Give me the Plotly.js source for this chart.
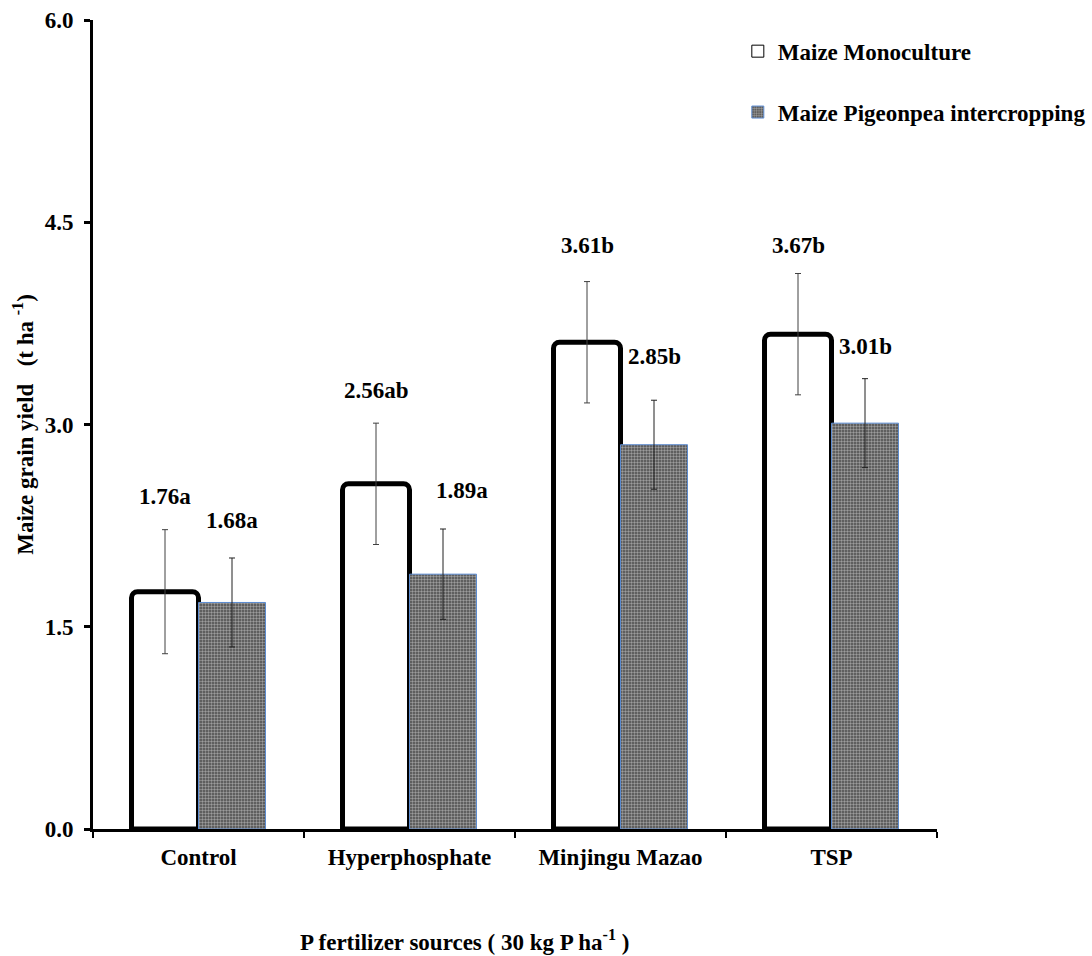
<!DOCTYPE html>
<html>
<head>
<meta charset="utf-8">
<script src="https://cdn.plot.ly/plotly-3.0.1.min.js"></script>
<style>html,body{margin:0;padding:0;background:#fff;}#chart{width:1092px;height:956px;}</style>
</head>
<body>
<div id="chart"></div>
<script>
// ---- data ----
const categories = ['Control', 'Hyperphosphate', 'Minjingu Mazao', 'TSP'];
const monoValues = [1.76, 2.56, 3.61, 3.67];
const monoErrors = [0.46, 0.45, 0.45, 0.45];
const interValues = [1.68, 1.89, 2.85, 3.01];
const interErrors = [0.33, 0.335, 0.33, 0.33];
const monoLabels = ['1.76a', '2.56ab', '3.61b', '3.67b'];
const interLabels = ['1.68a', '1.89a', '2.85b', '3.01b'];
const seriesNames = ['Maize Monoculture', 'Maize Pigeonpea intercropping'];
const yTickVals = [0, 1.5, 3.0, 4.5, 6.0];

// ---- styling (label offsets in px) ----
const FONT = 'Liberation Serif';
const FS = 23;
const barOffsetPx = 33.5;
const monoLabelYShift = [33, 33, 36, 28];
const interLabelYShift = [37, 39, 44, 32];
const interLabelXShift = [0, 19, 0, 0];

const monoMarker = { color: '#ffffff', line: { color: '#000000', width: 5 }, cornerradius: 6 };
const interMarker = {
  color: '#606060',
  line: { color: '#5b8bd0', width: 1 },
  pattern: { shape: '.', bgcolor: '#4a4a4a', fgcolor: '#9c9c9c', size: 3, solidity: 0.5 }
};

const traces = [
  {
    type: 'bar', name: seriesNames[0], x: categories, y: monoValues, showlegend: false,
    marker: monoMarker,
    error_y: { type: 'data', array: monoErrors, visible: true, color: '#404040', thickness: 1, width: 3 },
    hoverinfo: 'skip'
  },
  {
    type: 'bar', name: seriesNames[1], x: categories, y: interValues, showlegend: false,
    marker: interMarker,
    error_y: { type: 'data', array: interErrors, visible: true, color: '#202020', thickness: 1, width: 3 },
    hoverinfo: 'skip'
  },
  // legend-only entries drawn on a hidden subplot, with thin outline symbols
  {
    type: 'bar', name: seriesNames[0], x: [categories[0]], y: [null], xaxis: 'x2', yaxis: 'y2',
    legendgroup: 'g1', marker: { color: '#ffffff', line: { color: '#000000', width: 1 } }, hoverinfo: 'skip'
  },
  {
    type: 'bar', name: seriesNames[1], x: [categories[0]], y: [null], xaxis: 'x2', yaxis: 'y2',
    legendgroup: 'g2', marker: { color: '#606060', line: { color: '#5b8bd0', width: 1 },
      pattern: interMarker.pattern }, hoverinfo: 'skip'
  }
];

const annotations = [];
categories.forEach((c, i) => {
  annotations.push({
    x: c, xref: 'x', y: monoValues[i] + monoErrors[i], yref: 'y',
    xshift: -barOffsetPx, yshift: monoLabelYShift[i],
    text: monoLabels[i], showarrow: false, xanchor: 'center', yanchor: 'middle',
    font: { family: FONT, size: FS, color: '#000', weight: 'bold' }
  });
  annotations.push({
    x: c, xref: 'x', y: interValues[i] + interErrors[i], yref: 'y',
    xshift: barOffsetPx + interLabelXShift[i], yshift: interLabelYShift[i],
    text: interLabels[i], showarrow: false, xanchor: 'center', yanchor: 'middle',
    font: { family: FONT, size: FS, color: '#000', weight: 'bold' }
  });
});
annotations.push({
  xref: 'paper', yref: 'paper', x: 0.44, y: -0.138, xanchor: 'center', yanchor: 'middle',
  text: 'P fertilizer sources ( 30 kg P ha<sup>-1</sup> )', showarrow: false,
  font: { family: FONT, size: FS, color: '#000', weight: 'bold' }
});

const layout = {
  width: 1092, height: 956,
  margin: { l: 93, r: 155, t: 20, b: 127, pad: 0, autoexpand: false },
  paper_bgcolor: '#fff', plot_bgcolor: '#fff',
  font: { family: FONT, size: FS, color: '#000', weight: 'bold' },
  barmode: 'group', bargap: 0.365, bargroupgap: 0,
  showlegend: true,
  legend: {
    x: 0.764, xanchor: 'left', y: 0.988, yanchor: 'top',
    bgcolor: 'rgba(0,0,0,0)', tracegroupgap: 28,
    font: { family: FONT, size: FS, color: '#000', weight: 'bold' }
  },
  xaxis: {
    type: 'category', showline: true, linecolor: '#000', linewidth: 3,
    ticks: 'outside', tickson: 'boundaries', ticklen: 6, tickwidth: 2, tickcolor: '#000',
    ticklabelstandoff: 5,
    showgrid: false, zeroline: false,
    tickfont: { family: FONT, size: FS, color: '#000', weight: 'bold' }
  },
  yaxis: {
    range: [0, 6], tickvals: yTickVals, tickformat: '.1f',
    showline: true, linecolor: '#000', linewidth: 3,
    ticks: 'outside', ticklen: 6, tickwidth: 3, tickcolor: '#000',
    ticklabelstandoff: 6,
    showgrid: false, zeroline: false,
    tickfont: { family: FONT, size: FS, color: '#000', weight: 'bold' },
    title: { text: 'Maize grain yield   (t ha <sup>-1</sup>)', standoff: 5,
      font: { family: FONT, size: FS, color: '#000', weight: 'bold' } }
  },
  xaxis2: { domain: [0.99, 1], anchor: 'y2', visible: false, type: 'category' },
  yaxis2: { domain: [0.99, 1], anchor: 'x2', visible: false, range: [0, 1] },
  annotations: annotations
};

Plotly.newPlot('chart', traces, layout, { displayModeBar: false, staticPlot: true });
</script>
</body>
</html>
